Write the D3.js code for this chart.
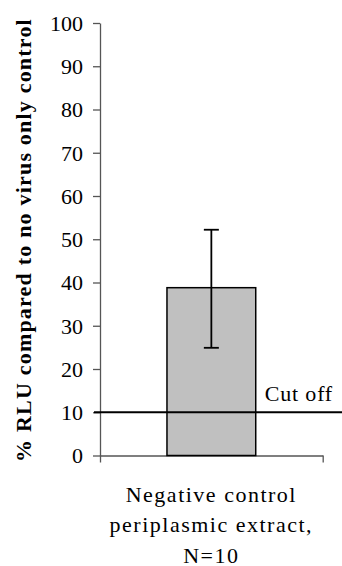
<!DOCTYPE html>
<html>
<head>
<meta charset="utf-8">
<script src="https://cdn.jsdelivr.net/npm/d3@7"></script>
<style>
  body { margin: 0; background: #fff; }
  svg text { font-family: "Liberation Serif", "Times New Roman", Times, serif; fill: #000; }
  .axis path, .axis line { stroke: #555; stroke-width: 1.3; }
  .axis text { font-size: 22px; }
</style>
</head>
<body>
<div id="chart"></div>
<script>
// data
var categories = ["Negative control periplasmic extract, N=10"]
var categoryLines = [["Negative control", "periplasmic extract,", "N=10"]]
var means = [38.8]
var errLow = [24.9]
var errHigh = [52.2]
var cutoff = 10
var yTicks = [0, 10, 20, 30, 40, 50, 60, 70, 80, 90, 100]

var W = 342, H = 566
var margin = {top: 23, right: 19.3, bottom: 110.5, left: 100}
var width = W - margin.left - margin.right
var height = H - margin.top - margin.bottom

var svg = d3.select("#chart")
  .append("svg")
  .attr("width", W)
  .attr("height", H)

var g = svg.append("g")
  .attr("transform", "translate(" + margin.left + "," + margin.top + ")")

var yScale = d3.scaleLinear()
  .domain([0, 100])
  .range([height, 0])

var xScale = d3.scaleBand()
  .domain(categories)
  .range([0, width])
  .padding(0.43)

// y axis
g.append("g")
  .attr("class", "axis")
  .call(d3.axisLeft(yScale)
    .tickValues(yTicks)
    .tickSize(7)
    .tickSizeOuter(0)
    .tickPadding(10))
  .selectAll("text").attr("dy", "0.34em")

// x axis: ticks at category boundaries
var xEdges = d3.scaleLinear().domain([0, 1]).range([0, width])
g.append("g")
  .attr("class", "axis")
  .attr("transform", "translate(0," + height + ")")
  .call(d3.axisBottom(xEdges)
    .tickValues([0, 1])
    .tickSize(7)
    .tickSizeOuter(0)
    .tickFormat(""))

// bars
g.selectAll(".bar")
  .data(categories)
  .enter()
  .append("rect")
  .attr("class", "bar")
  .attr("x", function(d) { return xScale(d) })
  .attr("width", xScale.bandwidth())
  .attr("y", function(d, i) { return yScale(means[i]) })
  .attr("height", function(d, i) { return height - yScale(means[i]) })
  .attr("fill", "#c0c0c0")
  .attr("stroke", "#000")
  .attr("stroke-width", 1.5)

// error bars
var capW = 7.5
var err = g.selectAll(".err")
  .data(categories)
  .enter()
  .append("g")
  .attr("class", "err")
  .attr("transform", function(d) { return "translate(" + (xScale(d) + xScale.bandwidth() / 2) + ",0)" })

err.append("line")
  .attr("y1", function(d, i) { return yScale(errLow[i]) })
  .attr("y2", function(d, i) { return yScale(errHigh[i]) })
err.append("line")
  .attr("x1", -capW).attr("x2", capW)
  .attr("y1", function(d, i) { return yScale(errLow[i]) })
  .attr("y2", function(d, i) { return yScale(errLow[i]) })
err.append("line")
  .attr("x1", -capW).attr("x2", capW)
  .attr("y1", function(d, i) { return yScale(errHigh[i]) })
  .attr("y2", function(d, i) { return yScale(errHigh[i]) })
err.selectAll("line")
  .attr("stroke", "#000")
  .attr("stroke-width", 1.8)

// cut off line
g.append("line")
  .attr("x1", -6)
  .attr("x2", W - margin.left)
  .attr("y1", yScale(cutoff))
  .attr("y2", yScale(cutoff))
  .attr("stroke", "#000")
  .attr("stroke-width", 2)

g.append("text")
  .attr("x", 233)
  .attr("y", yScale(cutoff) - 11)
  .attr("text-anchor", "end")
  .style("font-size", "22px")
  .style("letter-spacing", "0.8px")
  .text("Cut off")

// category labels
categories.forEach(function(c, i) {
  var t = g.append("text")
    .attr("text-anchor", "middle")
    .style("font-size", "22px")
    .style("letter-spacing", "1.5px")
  categoryLines[i].forEach(function(line, j) {
    t.append("tspan")
      .attr("x", xScale(c) + xScale.bandwidth() / 2)
      .attr("y", height + 46 + j * 30.5)
      .text(line)
  })
})

// y title
svg.append("text")
  .attr("transform", "translate(31,240) rotate(-90)")
  .attr("text-anchor", "middle")
  .style("font-size", "22px")
  .style("font-weight", "bold")
  .style("letter-spacing", "1.2px")
  .text("% RLU compared to no virus only control")
</script>
</body>
</html>
